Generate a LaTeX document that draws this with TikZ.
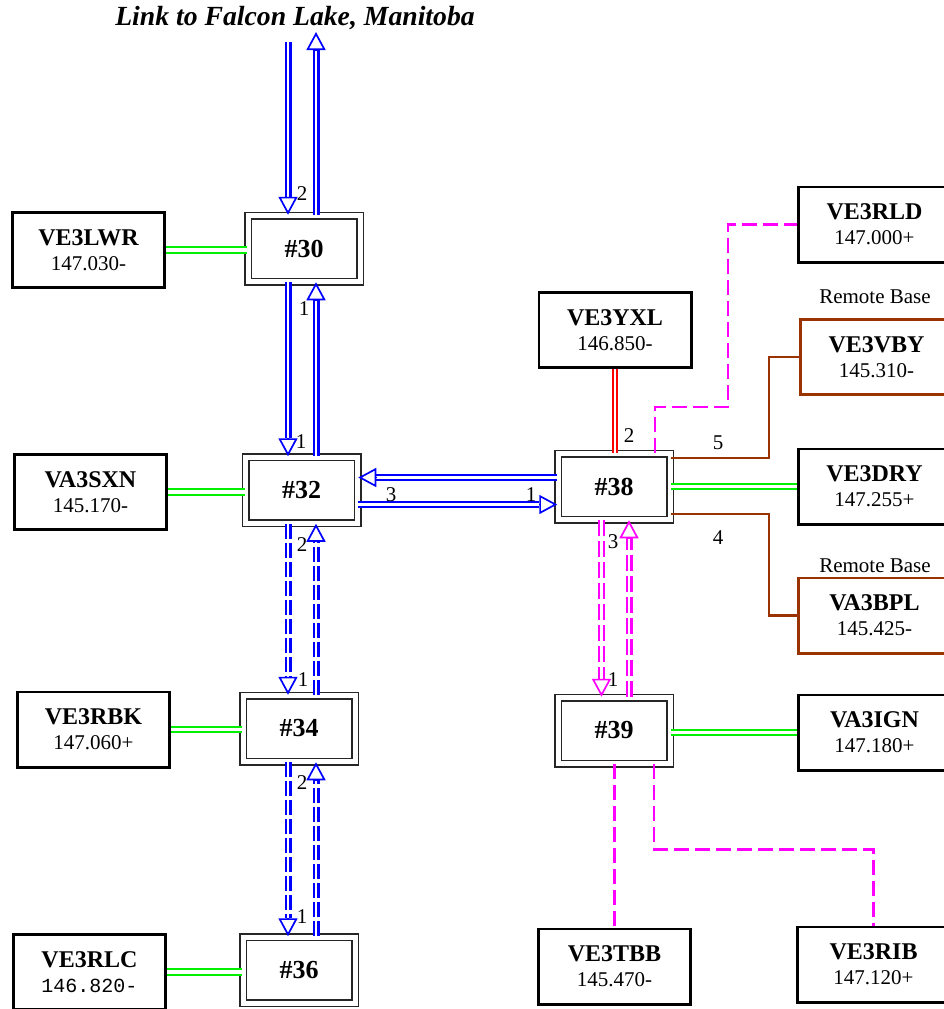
\documentclass[tikz,border=0pt]{standalone}
\usepackage{fontspec}
\setmainfont{Liberation Serif}
\newfontfamily\monofont{Liberation Mono}
\usetikzlibrary{arrows.meta,calc,positioning}

\definecolor{linkblue}{RGB}{0,0,255}
\definecolor{linkgreen}{RGB}{0,240,0}
\definecolor{linkmag}{RGB}{255,0,255}
\definecolor{linkred}{RGB}{255,0,0}
\definecolor{linkbrown}{RGB}{153,51,0}

\newcommand{\csign}[1]{{\fontsize{24}{25}\selectfont\bfseries #1}}

\tikzset{
  station/.style={draw=black, line width=2.8pt, fill=white, minimum width=152.2pt,
    minimum height=75.2pt, inner sep=0pt, align=center, font=\fontsize{21}{25}\selectfont},
  remote/.style={station, draw=linkbrown},
  hub/.style={draw=black!85, double=white, double distance=5pt, line width=1.5pt, fill=white,
    minimum width=112pt, minimum height=66pt, inner sep=0pt,
    font=\fontsize{26}{28}\selectfont\bfseries},
  dlink/.style={draw=#1, double=white, double distance=2.6pt, line width=2.2pt},
  dashlink/.style={dlink=#1, dash pattern=on 15pt off 4pt},
  headarrow/.style={draw=#1, line width=1.7pt, -{Triangle[open, length=18pt, width=19pt]}},
  feed/.style={draw=#1, line width=2.4pt},
  feeddash/.style={draw=linkmag, line width=2.2pt, dash pattern=on 15pt off 6pt},
  lbl/.style={font=\fontsize{21}{22}\selectfont, inner sep=0pt},
}

\begin{document}
\begin{tikzpicture}[x=1pt, y=-1pt]
  \useasboundingbox (0,0) rectangle (943,1009);

  % Title
  \node[font=\fontsize{27.7}{30}\selectfont\bfseries\itshape] (title) at (295,18)
    {Link to Falcon Lake, Manitoba};

  % Hubs
  \node[hub] (h30) at (304,248.5) {\#30};
  \node[hub] (h32) at (301.5,490) {\#32};
  \node[hub] (h34) at (299,728.5) {\#34};
  \node[hub] (h36) at (299,970) {\#36};
  \node[hub] (h38) at (614,486.5) {\#38};
  \node[hub] (h39) at (614,730.5) {\#39};

  % Stations, left column
  \node[station] (lwr) at (88.5,250) {\csign{VE3LWR}\\147.030-};
  \node[station] (sxn) at (90.5,492) {\csign{VA3SXN}\\145.170-};
  \node[station] (rbk) at (93.5,729.5) {\csign{VE3RBK}\\147.060+};
  \node[station] (rlc) at (89.5,972) {\csign{VE3RLC}\\{\monofont\fontsize{20}{25}\selectfont 146.820-}};

  % Stations, right side
  \node[station] (yxl) at (615,330) {\csign{VE3YXL}\\146.850-};
  \node[station] (rld) at (874.5,224.5) {\csign{VE3RLD}\\147.000+};
  \node[remote] (vby) at (876.5,357) {\csign{VE3VBY}\\145.310-};
  \node[station] (dry) at (874.5,486.5) {\csign{VE3DRY}\\147.255+};
  \node[remote] (bpl) at (874.5,615.5) {\csign{VA3BPL}\\145.425-};
  \node[station] (ign) at (874.5,732.5) {\csign{VA3IGN}\\147.180+};
  \node[station] (tbb) at (614.5,966.5) {\csign{VE3TBB}\\145.470-};
  \node[station] (rib) at (873.5,964.5) {\csign{VE3RIB}\\147.120+};

  \node[lbl] (rb1) at (875,297) {Remote Base};
  \node[lbl] (rb2) at (875,566) {Remote Base};

  % Link columns
  \coordinate (cl) at (288,0);
  \coordinate (cr) at (316,0);
  \coordinate (ml) at (601.5,0);
  \coordinate (mr) at (629,0);
  \coordinate (hu) at (0,477.5);
  \coordinate (hd) at (0,504.5);
  \coordinate (fl) at (288,42);
  \coordinate (fr) at (316,32);
  \coordinate (bx) at (769,0);
  \coordinate (b5) at ($(h38.east)+(0,-28.5)$);
  \coordinate (b4) at ($(h38.east)+(0,27.5)$);

  % Falcon Lake link
  \draw[dlink=linkblue] (fl) -- ($(h30.north -| cl)+(0,-18)$);
  \draw[headarrow=linkblue] ($(h30.north -| cl)+(0,-18)$) -- (h30.north -| cl);
  \draw[dlink=linkblue] (h30.north -| cr) -- ($(fr)+(0,18)$);
  \draw[headarrow=linkblue] ($(fr)+(0,18)$) -- (fr);

  % #30 - #32
  \draw[dlink=linkblue] (h30.south -| cl) -- ($(h32.north -| cl)+(0,-18)$);
  \draw[headarrow=linkblue] ($(h32.north -| cl)+(0,-18)$) -- (h32.north -| cl);
  \draw[dlink=linkblue] (h32.north -| cr) -- ($(h30.south -| cr)+(0,18)$);
  \draw[headarrow=linkblue] ($(h30.south -| cr)+(0,18)$) -- (h30.south -| cr);

  % #32 - #34
  \draw[dashlink=linkblue] (h32.south -| cl) -- ($(h34.north -| cl)+(0,-18)$);
  \draw[headarrow=linkblue] ($(h34.north -| cl)+(0,-18)$) -- (h34.north -| cl);
  \draw[dashlink=linkblue] (h34.north -| cr) -- ($(h32.south -| cr)+(0,18)$);
  \draw[headarrow=linkblue] ($(h32.south -| cr)+(0,18)$) -- (h32.south -| cr);

  % #34 - #36
  \draw[dashlink=linkblue] (h34.south -| cl) -- ($(h36.north -| cl)+(0,-18)$);
  \draw[headarrow=linkblue] ($(h36.north -| cl)+(0,-18)$) -- (h36.north -| cl);
  \draw[dashlink=linkblue] (h36.north -| cr) -- ($(h34.south -| cr)+(0,18)$);
  \draw[headarrow=linkblue] ($(h34.south -| cr)+(0,18)$) -- (h34.south -| cr);

  % #32 - #38
  \draw[dlink=linkblue] (h38.west |- hu) -- ($(h32.east |- hu)+(18,0)$);
  \draw[headarrow=linkblue] ($(h32.east |- hu)+(18,0)$) -- (h32.east |- hu);
  \draw[dlink=linkblue] (h32.east |- hd) -- ($(h38.west |- hd)+(-18,0)$);
  \draw[headarrow=linkblue] ($(h38.west |- hd)+(-18,0)$) -- (h38.west |- hd);

  % #38 - #39
  \draw[dashlink=linkmag, dash pattern=on 16pt off 5pt] (h38.south -| ml) -- ($(h39.north -| ml)+(0,-18)$);
  \draw[headarrow=linkmag] ($(h39.north -| ml)+(0,-18)$) -- (h39.north -| ml);
  \draw[dashlink=linkmag, dash pattern=on 16pt off 5pt] (h39.north -| mr) -- ($(h38.south -| mr)+(0,18)$);
  \draw[headarrow=linkmag] ($(h38.south -| mr)+(0,18)$) -- (h38.south -| mr);

  % Local stations
  \draw[dlink=linkgreen, double distance=3.3pt] (lwr.east) -- (lwr.east -| h30.west);
  \draw[dlink=linkgreen, double distance=3.3pt] (sxn.east) -- (sxn.east -| h32.west);
  \draw[dlink=linkgreen, double distance=3.3pt] (rbk.east) -- (rbk.east -| h34.west);
  \draw[dlink=linkgreen, double distance=3.3pt] (rlc.east) -- (rlc.east -| h36.west);
  \draw[dlink=linkgreen, double distance=3.3pt] (dry.west -| h38.east) -- (dry.west);
  \draw[dlink=linkgreen, double distance=3.3pt] (ign.west -| h39.east) -- (ign.west);
  \draw[dlink=linkred, line width=1.7pt, double distance=2pt] (yxl.south) -- (yxl.south |- h38.north);

  % Remote bases
  \draw[feed=linkbrown] (b5) -- (b5 -| bx) |- (vby.west);
  \draw[feed=linkbrown] (b4) -- (b4 -| bx) |- (bpl.west);

  % Dashed feeds
  \draw[feeddash] ($(h38.north)+(41,0)$) -- ++(0,-46) -| ($(rld.west)+(-69,0)$) -- (rld.west);
  \draw[feeddash] (tbb.north |- h39.south) -- (tbb.north);
  \draw[feeddash] ($(h39.south)+(40,0)$) |- ($(rib.north)+(0,-76)$) -- (rib.north);

  % Port numbers
  \node[lbl] (p1) at (302,194) {2};
  \node[lbl] (p2) at (304,309) {1};
  \node[lbl] (p3) at (301,442) {1};
  \node[lbl] (p4) at (302,545) {2};
  \node[lbl] (p5) at (303,680) {1};
  \node[lbl] (p6) at (302,783) {2};
  \node[lbl] (p7) at (302,917) {1};
  \node[lbl] (p8) at (391,495) {3};
  \node[lbl] (p9) at (531,495) {1};
  \node[lbl] (p10) at (629,436) {2};
  \node[lbl] (p11) at (718,443) {5};
  \node[lbl] (p12) at (718,538) {4};
  \node[lbl] (p13) at (613,542) {3};
  \node[lbl] (p14) at (613,680) {1};
\end{tikzpicture}
\end{document}
